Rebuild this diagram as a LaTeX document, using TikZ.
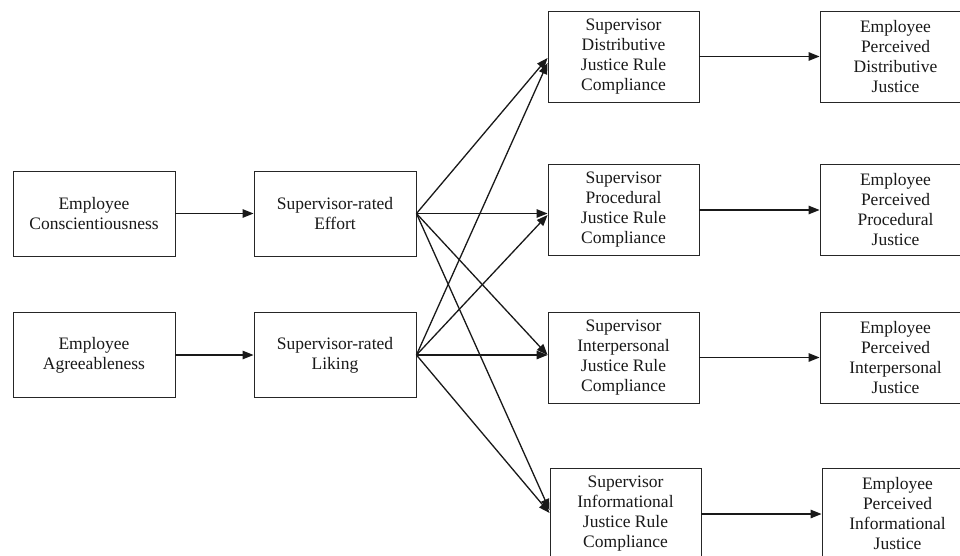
\documentclass[tikz,border=0pt]{standalone}
\usepackage{fontspec}
\setmainfont{Liberation Serif}
\usetikzlibrary{arrows.meta}
\begin{document}
\begin{tikzpicture}[x=1pt,y=-1pt,
  box/.style={draw=black!85, line width=0.9pt, rectangle, align=center, inner sep=0pt,
    text=black!90, font=\fontsize{17.5}{20}\selectfont},
  leftbox/.style={box, minimum width=162pt, minimum height=85pt},
  rbox/.style={box, minimum width=151pt, minimum height=91pt},
  arr/.style={line width=1.3pt, draw=black!90, -{Triangle[length=11pt,width=8.5pt]}}]
\clip (0,0) rectangle (960,556);
\fill[white] (0,0) rectangle (960,556);

\node[leftbox] (cons)   at (94,213.5)  {Employee\\Conscientiousness};
\node[leftbox] (effort) at (335,213.5) {Supervisor-rated\\Effort};
\node[leftbox] (agree)  at (94,355)    {Employee\\Agreeableness};
\node[leftbox] (liking) at (335,355)   {Supervisor-rated\\Liking};

\node[rbox] (sdist)  at (623.5,56.5) {Supervisor\\Distributive\\Justice Rule\\Compliance};
\node[rbox] (sproc)  at (623.5,210)  {Supervisor\\Procedural\\Justice Rule\\Compliance};
\node[rbox] (sinter) at (623.5,357.5){Supervisor\\Interpersonal\\Justice Rule\\Compliance};
\node[rbox] (sinfo)  at (625.5,514)  {Supervisor\\Informational\\Justice Rule\\Compliance};

\node[rbox] (edist)  at (895.5,56.5) {Employee\\Perceived\\Distributive\\Justice};
\node[rbox] (eproc)  at (895.5,210)  {Employee\\Perceived\\Procedural\\Justice};
\node[rbox] (einter) at (895.5,357.5){Employee\\Perceived\\Interpersonal\\Justice};
\node[rbox] (einfo)  at (897.5,514)  {Employee\\Perceived\\Informational\\Justice};

\draw[arr] (cons.east) -- (effort.west);
\draw[arr] (agree.east) -- (liking.west);

\draw[arr] (effort.east) -- ([yshift=-1.5pt]sdist.west);
\draw[arr] (effort.east) -- (effort.east -| sproc.west);
\draw[arr] (effort.east) -- ([yshift=2.5pt]sinter.west);
\draw[arr] (effort.east) -- ([yshift=4pt]sinfo.west);

\draw[arr] (liking.east) -- ([yshift=-6.5pt]sdist.west);
\draw[arr] (liking.east) -- ([yshift=-5pt]sproc.west);
\draw[arr] (liking.east) -- (liking.east -| sinter.west);
\draw[arr] (liking.east) -- ([yshift=1pt]sinfo.west);

\draw[arr] (sdist.east) -- (edist.west);
\draw[arr] (sproc.east) -- (eproc.west);
\draw[arr] (sinter.east) -- (einter.west);
\draw[arr] (sinfo.east) -- (einfo.west);
\end{tikzpicture}
\end{document}
